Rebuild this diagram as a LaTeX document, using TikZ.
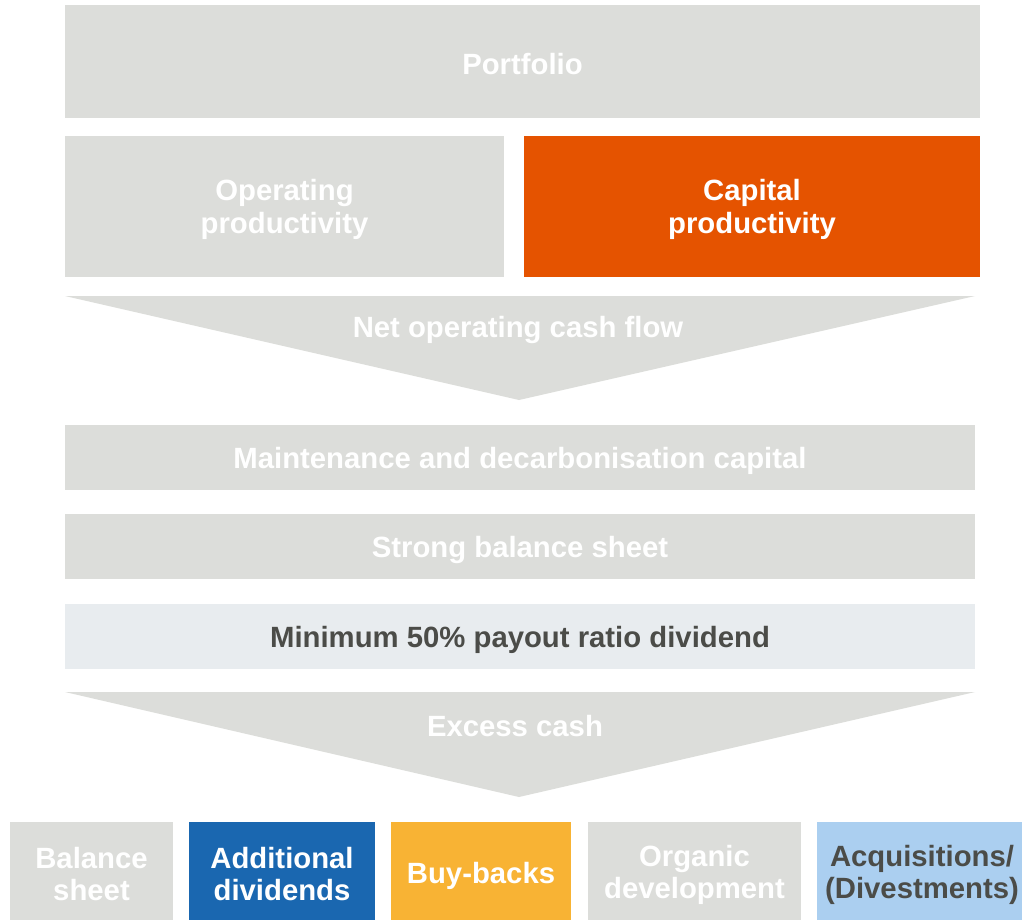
\documentclass[tikz,border=0pt]{standalone}
\usepackage{fontspec}
\setmainfont{Liberation Sans}
\definecolor{boxgray}{HTML}{DCDDDA}
\definecolor{orng}{HTML}{E55300}
\definecolor{lightbg}{HTML}{E8ECEF}
\definecolor{darktext}{HTML}{4B4C48}
\definecolor{blu}{HTML}{1A67B0}
\definecolor{yel}{HTML}{F8B334}
\definecolor{lblu}{HTML}{ABCFF0}
\tikzset{
  lbl/.style={font=\fontsize{29.3}{32.5}\selectfont\bfseries, align=center, text=white, inner sep=0pt},
  boxnode/.style={fill=boxgray, inner sep=0pt, draw=none},
  arrowshape/.style={fill=boxgray, draw=none}
}
\begin{document}
\begin{tikzpicture}[x=1pt,y=-1pt]
\useasboundingbox (0,0) rectangle (1022,920);
\fill[white] (0,0) rectangle (1022,920);
% top boxes
\node[boxnode, minimum width=915pt, minimum height=113pt] (portfolio) at (522.5,61.5) {};
\node[lbl, yshift=-3pt] (portfoliot) at (portfolio.center) {Portfolio};
\node[boxnode, minimum width=439pt, minimum height=141pt] (operating) at (284.5,206.5) {};
\node[lbl, yshift=-3pt] (operatingt) at (operating.center) {Operating\\productivity};
\node[boxnode, fill=orng, minimum width=456pt, minimum height=141pt] (capital) at (752,206.5) {};
\node[lbl, yshift=-3pt] (capitalt) at (capital.center) {Capital\\productivity};
% arrow 1
\coordinate (a1l) at (65,296);
\coordinate (a1r) at (975,296);
\coordinate (a1t) at (519,400);
\fill[arrowshape] (a1l) -- (a1r) -- (a1t) -- cycle;
\node[lbl] (netcash) at (518,330) {Net operating cash flow};
% middle bars
\node[boxnode, minimum width=910pt, minimum height=65pt] (maint) at (520,457.5) {};
\node[lbl, yshift=-3pt] (maintt) at (maint.center) {Maintenance and decarbonisation capital};
\node[boxnode, minimum width=910pt, minimum height=65pt] (strong) at (520,546.5) {};
\node[lbl, yshift=-3pt] (strongt) at (strong.center) {Strong balance sheet};
\node[boxnode, fill=lightbg, minimum width=910pt, minimum height=65pt] (minimum) at (520,636.5) {};
\node[lbl, text=darktext, yshift=-3pt] (minimumt) at (minimum.center) {Minimum 50\% payout ratio dividend};
% arrow 2
\coordinate (a2l) at (65,692);
\coordinate (a2r) at (975,692);
\coordinate (a2t) at (519,797);
\fill[arrowshape] (a2l) -- (a2r) -- (a2t) -- cycle;
\node[lbl] (excess) at (515,726) {Excess cash};
% bottom boxes
\node[boxnode, minimum width=163pt, minimum height=104pt] (balance) at (91.5,874) {};
\node[lbl] (balancet) at (balance.center) {Balance\\sheet};
\node[boxnode, fill=blu, minimum width=186pt, minimum height=104pt] (adddiv) at (282,874) {};
\node[lbl] (adddivt) at (adddiv.center) {Additional\\dividends};
\node[boxnode, fill=yel, minimum width=180pt, minimum height=104pt] (buyback) at (481,874) {};
\node[lbl, yshift=-2pt] (buybackt) at (buyback.center) {Buy-backs};
\node[boxnode, minimum width=213pt, minimum height=104pt] (organic) at (694.5,874) {};
\node[lbl, yshift=-1pt] (organict) at (organic.center) {Organic\\development};
\node[boxnode, fill=lblu, minimum width=210pt, minimum height=104pt] (acq) at (922,874) {};
\node[lbl, text=darktext, yshift=-1pt] (acqt) at (acq.center) {Acquisitions/\\(Divestments)};
\end{tikzpicture}
\end{document}
